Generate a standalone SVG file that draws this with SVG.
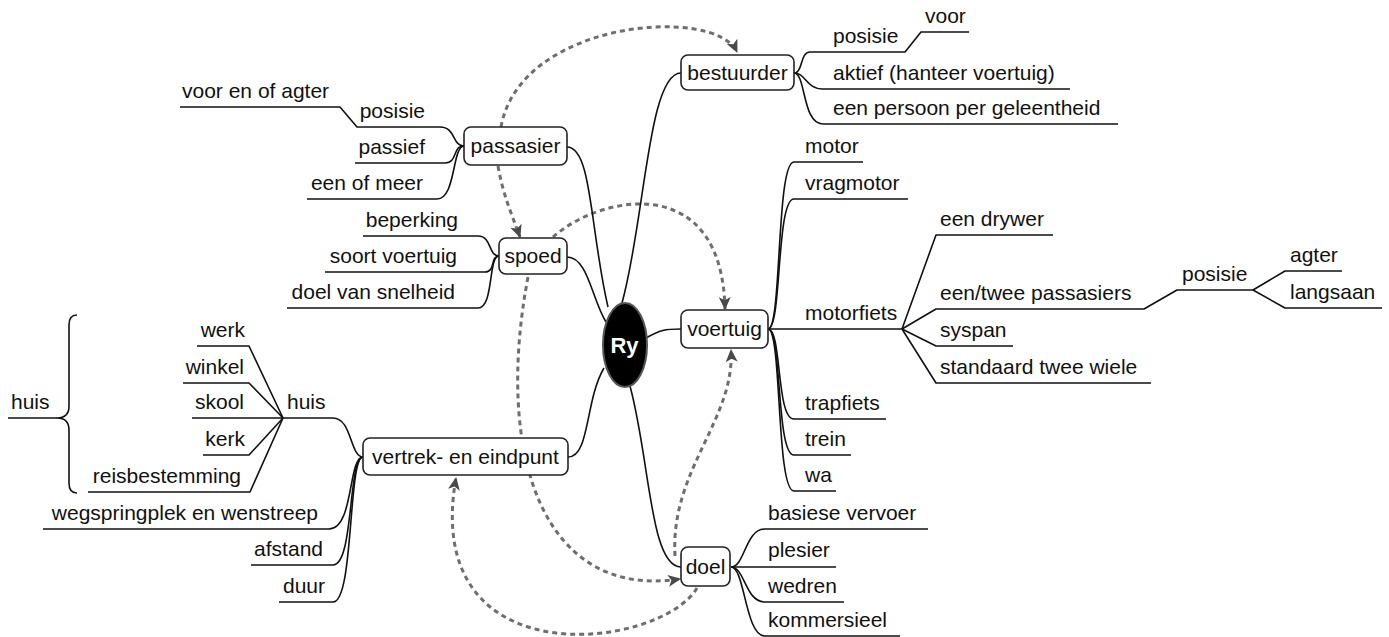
<svg xmlns="http://www.w3.org/2000/svg" width="1389" height="637" viewBox="0 0 1389 637">
<defs>
<style>
text{font-family:"Liberation Sans",Arial,sans-serif;font-size:21px;fill:#111}
.e{text-anchor:end}
.m{text-anchor:middle}
.br{fill:none;stroke:#111;stroke-width:1.6;stroke-linejoin:round}
.rel{fill:none;stroke:#6e6e6e;stroke-width:3;stroke-dasharray:5 4}
.box{fill:#fff;stroke:#222;stroke-width:1.6}
</style>
<marker id="arr" viewBox="0 0 12 12" refX="11" refY="6" markerWidth="13" markerHeight="13" markerUnits="userSpaceOnUse" orient="auto">
<path d="M0,0.5 L12,6 L0,11.5 L3,6 z" fill="#4a4a4a"/>
</marker>
</defs>
<rect width="1389" height="637" fill="#fff"/>
<g id="connectors">
<g id="relationships">
<path class="rel" d="M501,127 C520,20 715,5 737,52" marker-end="url(#arr)"/>
<path class="rel" d="M498,166 C503,195 512,215 520,237" marker-end="url(#arr)"/>
<path class="rel" d="M553,237 C600,195 722,170 725,309" marker-end="url(#arr)"/>
<path class="rel" d="M528,277 C495,450 540,600 680,579" marker-end="url(#arr)"/>
<path class="rel" d="M697,588 C660,650 420,680 456,478" marker-end="url(#arr)"/>
<path class="rel" d="M675,556 C670,470 735,420 731,350" marker-end="url(#arr)"/>
</g>
<g id="branches">
<path class="br" d="M622,303 C645,220 648,73 681,73"/>
<path class="br" d="M608,307 C590,230 592,147 567,147"/>
<path class="br" d="M606,322 C592,300 588,257 567,257"/>
<path class="br" d="M646,338 C660,330 665,329 681,329"/>
<path class="br" d="M604,368 C585,400 590,457 568,457"/>
<path class="br" d="M630,386 C650,460 650,567 681,567"/>
<path class="br" d="M794,73 C803,73 800,52 810,52 L905,52 L921,32 L969,32"/>
<path class="br" d="M794,73 C806,73 806,89 823,89 L1070,89"/>
<path class="br" d="M794,73 C806,73 802,124 823,124 L1118,124"/>
<path class="br" d="M768,329 C782,329 776,162 794,162 L863,162"/>
<path class="br" d="M768,329 C782,329 776,199 794,199 L908,199"/>
<path class="br" d="M768,329 L902,329"/>
<path class="br" d="M768,329 C782,329 776,419 794,419 L886,419"/>
<path class="br" d="M768,329 C782,329 776,455 794,455 L851,455"/>
<path class="br" d="M768,329 C782,329 776,491 794,491 L836,491"/>
<path class="br" d="M902,329 L936,235 L1053,235"/>
<path class="br" d="M902,329 L936,309 L1144,309 L1177,290 L1253,290"/>
<path class="br" d="M1253,290 L1285,271 L1342,271"/>
<path class="br" d="M1253,290 L1285,308 L1382,308"/>
<path class="br" d="M902,329 L936,346 L1013,346"/>
<path class="br" d="M902,329 L936,383 L1151,383"/>
<path class="br" d="M731,567 C745,567 745,529 765,529 L928,529"/>
<path class="br" d="M731,567 L836,567"/>
<path class="br" d="M731,567 C745,567 745,602 765,602 L844,602"/>
<path class="br" d="M731,567 C745,567 745,636 765,636 L900,636"/>
<path class="br" d="M464,146 C452,146 456,127 440,127 L357,127 L340,107 L180,107"/>
<path class="br" d="M464,146 C452,146 458,163 445,163 L355,163"/>
<path class="br" d="M464,146 C452,146 456,199 437,199 L307,199"/>
<path class="br" d="M499,256 C488,256 492,236 478,236 L363,236"/>
<path class="br" d="M499,256 C490,256 496,272 485,272 L325,272"/>
<path class="br" d="M499,256 C488,256 494,308 478,308 L287,308"/>
<path class="br" d="M363,457 C350,457 352,418 333,418 L192,418"/>
<path class="br" d="M283,418 L249,346 L197,346"/>
<path class="br" d="M283,418 L249,383 L183,383"/>
<path class="br" d="M283,418 L249,455 L203,455"/>
<path class="br" d="M283,418 L250,492 L88,492"/>
<path class="br" d="M363,457 C348,457 354,529 329,529 L43,529"/>
<path class="br" d="M363,457 C348,457 354,565 333,565 L251,565"/>
<path class="br" d="M363,457 C348,457 354,602 333,602 L279,602"/>
<path class="br" d="M77,315 Q69,315 69,325 L69,406 Q69,418 57,418 Q69,418 69,430 L69,483 Q69,493 77,493"/>
<path class="br" d="M8,418 L57,418"/>
</g>
</g>
<g id="node-ry"><ellipse cx="625" cy="345" rx="22" ry="42" fill="#000" stroke="#555" stroke-width="2"/><text x="624.5" y="353" class="m" style="fill:#fff;font-weight:bold;font-size:22px">Ry</text></g>
<g id="node-bestuurder"><rect class="box" x="681" y="55" width="113" height="35" rx="7"/><text x="737.5" y="80" class="m">bestuurder</text></g>
<g id="node-passasier"><rect class="box" x="464" y="127" width="103" height="38" rx="7"/><text x="515.5" y="153" class="m">passasier</text></g>
<g id="node-spoed"><rect class="box" x="499" y="238" width="68" height="36" rx="7"/><text x="533" y="263" class="m">spoed</text></g>
<g id="node-voertuig"><rect class="box" x="681" y="310" width="87" height="38" rx="7"/><text x="724.5" y="336" class="m">voertuig</text></g>
<g id="node-vertrek"><rect class="box" x="363" y="438" width="205" height="37" rx="7"/><text x="465.5" y="464" class="m">vertrek- en eindpunt</text></g>
<g id="node-doel"><rect class="box" x="681" y="547" width="49" height="39" rx="7"/><text x="705.5" y="574" class="m">doel</text></g>
<g id="node-b-posisie"><text x="833" y="43">posisie</text></g>
<g id="node-b-voor"><text x="925" y="23">voor</text></g>
<g id="node-b-aktief"><text x="833" y="80">aktief (hanteer voertuig)</text></g>
<g id="node-b-persoon"><text x="833" y="115">een persoon per geleentheid</text></g>
<g id="node-v-motor"><text x="805" y="153">motor</text></g>
<g id="node-v-vragmotor"><text x="805" y="190">vragmotor</text></g>
<g id="node-v-motorfiets"><text x="805" y="320">motorfiets</text></g>
<g id="node-v-trapfiets"><text x="805" y="410">trapfiets</text></g>
<g id="node-v-trein"><text x="805" y="446">trein</text></g>
<g id="node-v-wa"><text x="805" y="482">wa</text></g>
<g id="node-m-drywer"><text x="940" y="226">een drywer</text></g>
<g id="node-m-passasiers"><text x="940" y="300">een/twee passasiers</text></g>
<g id="node-m-syspan"><text x="940" y="337">syspan</text></g>
<g id="node-m-standaard"><text x="940" y="374">standaard twee wiele</text></g>
<g id="node-m-posisie"><text x="1182" y="281">posisie</text></g>
<g id="node-m-agter"><text x="1290" y="262">agter</text></g>
<g id="node-m-langsaan"><text x="1290" y="299">langsaan</text></g>
<g id="node-d-basiese"><text x="768" y="520">basiese vervoer</text></g>
<g id="node-d-plesier"><text x="768" y="557">plesier</text></g>
<g id="node-d-wedren"><text x="768" y="593">wedren</text></g>
<g id="node-d-kommersieel"><text x="768" y="627">kommersieel</text></g>
<g id="node-p-voorenofagter"><text x="182" y="98">voor en of agter</text></g>
<g id="node-p-posisie"><text x="425" y="118" class="e">posisie</text></g>
<g id="node-p-passief"><text x="425" y="154" class="e">passief</text></g>
<g id="node-p-eenofmeer"><text x="423" y="190" class="e">een of meer</text></g>
<g id="node-s-beperking"><text x="458" y="227" class="e">beperking</text></g>
<g id="node-s-soort"><text x="457" y="263" class="e">soort voertuig</text></g>
<g id="node-s-doel"><text x="455" y="299" class="e">doel van snelheid</text></g>
<g id="node-e-huis"><text x="287" y="409">huis</text></g>
<g id="node-e-werk"><text x="245" y="337" class="e">werk</text></g>
<g id="node-e-winkel"><text x="244" y="374" class="e">winkel</text></g>
<g id="node-e-skool"><text x="244" y="409" class="e">skool</text></g>
<g id="node-e-kerk"><text x="245" y="446" class="e">kerk</text></g>
<g id="node-e-reis"><text x="241" y="483" class="e">reisbestemming</text></g>
<g id="node-e-weg"><text x="318" y="520" class="e">wegspringplek en wenstreep</text></g>
<g id="node-e-afstand"><text x="323" y="556" class="e">afstand</text></g>
<g id="node-e-duur"><text x="325" y="593" class="e">duur</text></g>
<g id="node-huis-left"><text x="11" y="409">huis</text></g>
</svg>
